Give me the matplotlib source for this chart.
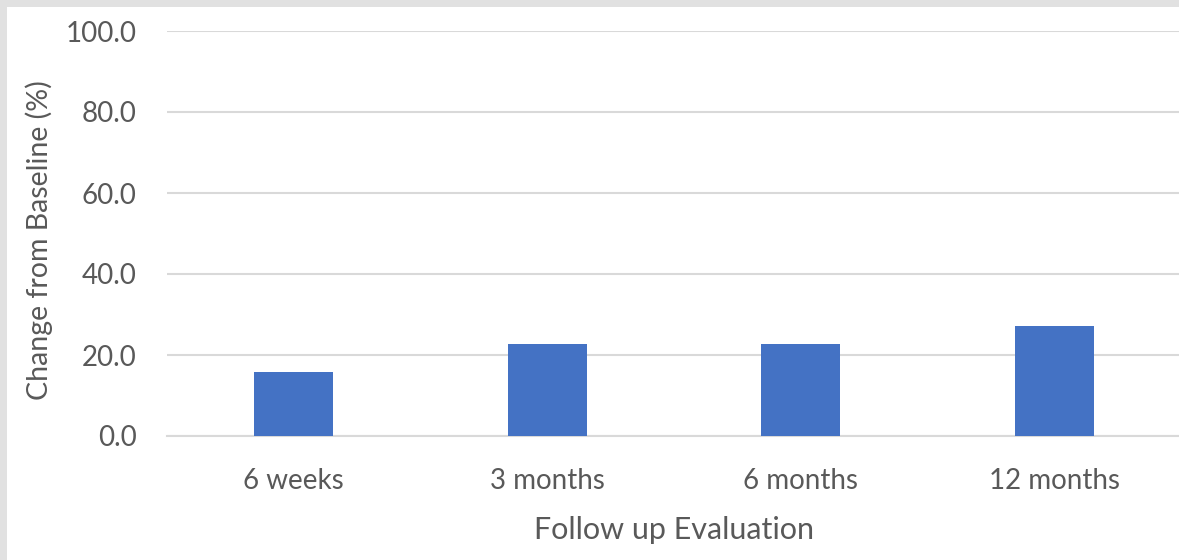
import matplotlib
matplotlib.use("Agg")
import matplotlib.pyplot as plt
from matplotlib.patches import Rectangle

# follow-up evaluation data
timepoints = ["6 weeks", "3 months", "6 months", "12 months"]
change_pct = [15.9, 22.7, 22.7, 27.2]
yticks = [0, 20, 40, 60, 80, 100]

plt.rcParams["font.family"] = ["Lato", "DejaVu Sans"]

W, H = 1179, 560
fig = plt.figure(figsize=(W / 100, H / 100), dpi=100)
fig.patch.set_facecolor("#e1e1e1")
# white panel, leaving a thin grey frame on top and left
fig.patches.append(Rectangle((7 / W, 0), 1, (H - 7) / H, transform=fig.transFigure,
                             facecolor="white", edgecolor="none", zorder=-5))

ax = fig.add_axes([167 / W, (H - 436) / H, (1181 - 167) / W, (436 - 31) / H])
ax.set_facecolor("none")
x = range(len(timepoints))
ax.bar(x, change_pct, width=0.31, color="#4472c4", zorder=3)

ax.set_xlim(-0.5, len(timepoints) - 0.5)
ax.set_ylim(0, 100)
ax.set_yticks(yticks)
ax.set_yticklabels([f"{v:.1f}" for v in yticks])
ax.set_xticks(list(x))
ax.set_xticklabels(timepoints)
ax.grid(axis="y", color="#d9d9d9", linewidth=1.5, zorder=0)
ax.set_axisbelow(True)
for s in ["top", "right", "left"]:
    ax.spines[s].set_visible(False)
ax.spines["bottom"].set_color("#d9d9d9")
ax.spines["bottom"].set_linewidth(1.5)
ax.tick_params(axis="both", length=0, labelsize=20, colors="#595959")
ax.tick_params(axis="y", pad=22)
ax.tick_params(axis="x", pad=23)

ax.set_xlabel("Follow up Evaluation", fontsize=22, color="#595959", va="center")
ax.set_ylabel("Change from Baseline (%)", fontsize=20.5, color="#595959", va="center")
ax.xaxis.set_label_coords(0.5, -94 / 405)
ax.yaxis.set_label_coords(-128 / 1014, 196 / 405)

fig.savefig("out.png", dpi=100)
